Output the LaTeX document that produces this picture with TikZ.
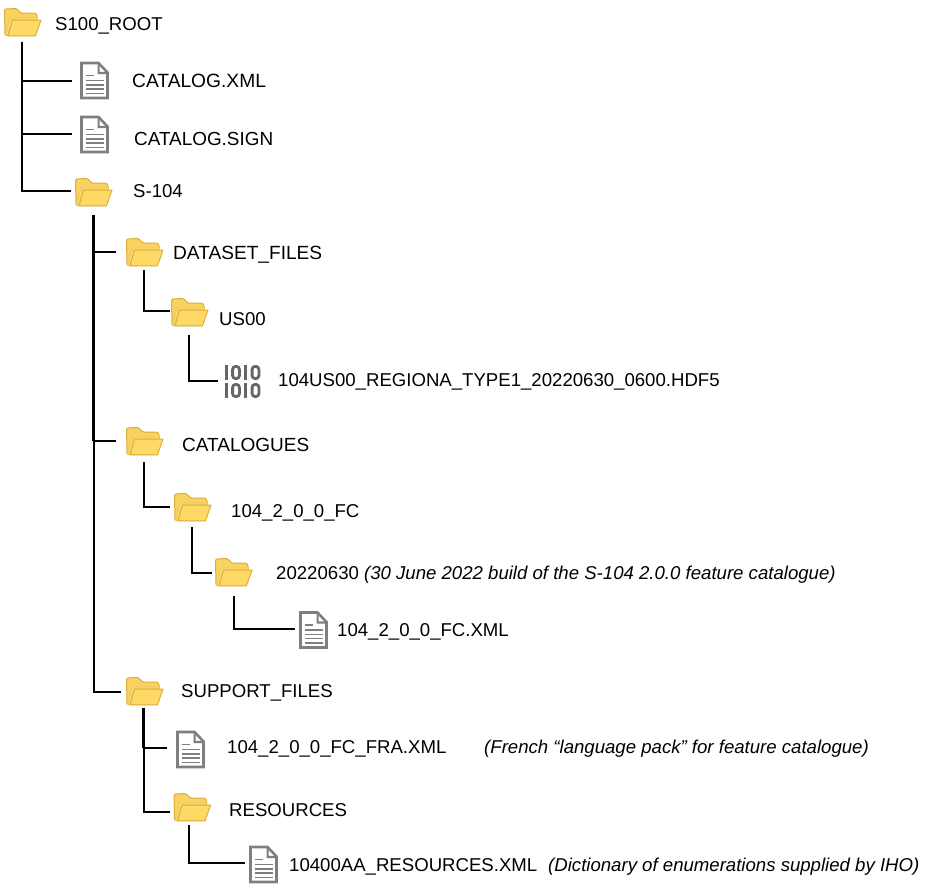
\documentclass[tikz,border=0pt]{standalone}
\usepackage{fontspec}
\setmainfont{Liberation Sans}
\definecolor{fedge}{HTML}{DBAE38}
\definecolor{ffill}{HTML}{FAD25F}
\definecolor{ffront}{HTML}{FFD966}
\definecolor{dgrey}{HTML}{7F7F7F}
\definecolor{bgrey}{HTML}{666666}
\tikzset{
  x=1pt,y=-1pt,
  iconbox/.style={inner sep=0pt,outer sep=0pt,minimum width=#1,minimum height=26pt},
  lbl/.style={anchor=base west,inner sep=0pt,font=\fontsize{#1}{20}\selectfont},
  lbl/.default=18.6,
  note/.style={anchor=base west,inner sep=0pt,font=\fontsize{18.6}{20}\selectfont\itshape},
  wire/.style={draw=black,line width=2pt},
  trunkwire/.style={draw=black,line width=3pt},
  folder/.pic={
    \draw[fedge,fill=ffill,line width=1pt,line join=round,rounded corners=1.3pt]
      (-17.5,13.5) -- (-18,-13) -- (-6,-13.5) -- (-2,-9) -- (13,-9) -- (14.5,-7) -- (14.5,0) -- (10,13.5) -- cycle;
    \draw[fedge!70!white,fill=ffront,line width=.9pt,line join=round] (-17,13) -- (-12.5,-4) -- (15,-4) -- (15,-2) -- (-10,-2) -- (-14.5,13.5) -- cycle;
    \draw[fedge,fill=ffront,line width=1pt,line join=round] (-14.5,13.8) -- (-10,-2) -- (18.5,-2) -- (13,13.8) -- cycle;
  },
  docicon/.pic={
    \draw[dgrey,fill=white,line width=2.6pt,line join=miter] (-13,-17.5) -- (4,-17.5) -- (13,-8) -- (13,17.5) -- (-13,17.5) -- cycle;
    \fill[dgrey] (3,-17.5) -- (3,-6.5) -- (13,-6.5) -- (13,-8.7) -- (5.2,-8.7) -- (5.2,-17.5) -- cycle;
    \foreach \yy in {0,4.3,8.6,12.9}{
      \draw[dgrey,line width=1.6pt] (-9,\yy) -- (9,\yy);}
    \draw[dgrey,line width=1.6pt] (-9,-5) -- (-1,-5);
  },
  binicon/.pic={
    \foreach \yy in {-9,9}{
      \foreach \xx in {-15,4}{
        \fill[bgrey] (\xx-1.8,\yy-7.5) rectangle (\xx+1.8,\yy+7.5);}
      \foreach \xx in {-5.5,14}{
        \draw[bgrey,line width=2.8pt,rounded corners=3pt] (\xx-3.4,\yy-6.1) rectangle (\xx+3.4,\yy+6.1);}
    }
  },
}
\begin{document}
\begin{tikzpicture}
\useasboundingbox (0,0) rectangle (938,889);
% icons
\node[iconbox=37pt] (root) at (22.5,22) {}; \pic at (root.center) {folder};
\node[iconbox=28pt] (catxml) at (94.5,80.5) {}; \pic at (catxml.center) {docicon};
\node[iconbox=28pt] (catsign) at (94.5,134.5) {}; \pic at (catsign.center) {docicon};
\node[iconbox=37pt] (s104) at (93.5,192) {}; \pic at (s104.center) {folder};
\node[iconbox=37pt] (dataset) at (144.5,252) {}; \pic at (dataset.center) {folder};
\node[iconbox=37pt] (us00) at (189.5,312) {}; \pic at (us00.center) {folder};
\node[iconbox=37pt] (hdf) at (241.5,381.5) {}; \pic at (hdf.center) {binicon};
\node[iconbox=37pt] (catalogues) at (144.5,441) {}; \pic at (catalogues.center) {folder};
\node[iconbox=37pt] (fc) at (192.5,507) {}; \pic at (fc.center) {folder};
\node[iconbox=37pt] (build) at (233.5,572) {}; \pic at (build.center) {folder};
\node[iconbox=28pt] (fcxml) at (313.5,630) {}; \pic at (fcxml.center) {docicon};
\node[iconbox=37pt] (support) at (144.5,691) {}; \pic at (support.center) {folder};
\node[iconbox=28pt] (fra) at (190.5,749.5) {}; \pic at (fra.center) {docicon};
\node[iconbox=37pt] (resources) at (192,807) {}; \pic at (resources.center) {folder};
\node[iconbox=28pt] (resxml) at (263.5,864.5) {}; \pic at (resxml.center) {docicon};
% labels
\node[lbl] (t1) at (55,30.5) {S100\_ROOT};
\node[lbl=19.2] (t2) at (132,87.5) {CATALOG.XML};
\node[lbl=18.9] (t3) at (134,145.5) {CATALOG.SIGN};
\node[lbl] (t4) at (133,197.5) {S-104};
\node[lbl=19.1] (t5) at (173,259.5) {DATASET\_FILES};
\node[lbl] (t6) at (219,325.5) {US00};
\node[lbl] (t7) at (278,386.5) {104US00\_REGIONA\_TYPE1\_20220630\_0600.HDF5};
\node[lbl=19] (t8) at (182,451.5) {CATALOGUES};
\node[lbl] (t9) at (231,517.5) {104\_2\_0\_0\_FC};
\node[lbl] (t10) at (276,579.5) {20220630 \textit{(30 June 2022 build of the S-104 2.0.0 feature catalogue)}};
\node[lbl] (t11) at (337,636.5) {104\_2\_0\_0\_FC.XML};
\node[lbl] (t12) at (181,697.5) {SUPPORT\_FILES};
\node[lbl] (t13) at (227,753.5) {104\_2\_0\_0\_FC\_FRA.XML};
\node[note] (n13) at (484,753.5) {(French “language pack” for feature catalogue)};
\node[lbl] (t14) at (229,816.5) {RESOURCES};
\node[lbl] (t15) at (289,871.5) {10400AA\_RESOURCES.XML};
\node[note] (n15) at (548,871.5) {(Dictionary of enumerations supplied by IHO)};
% connector anchors
\coordinate (a0) at (22,42);
\coordinate (a1) at (93.5,215);
\coordinate (a1b) at (94,441);
\coordinate (a2) at (144,270);
\coordinate (a3) at (189,335);
\coordinate (a4) at (144,462);
\coordinate (a5) at (192,527);
\coordinate (a6) at (234,596);
\coordinate (a7) at (143.5,708);
\coordinate (a7b) at (143.5,748);
\coordinate (a7c) at (144,748);
\coordinate (a8) at (189,825);
\coordinate (l1) at (72,81);
\coordinate (l2) at (72,134);
\coordinate (l3) at (71,191);
\coordinate (l4) at (116,252);
\coordinate (l5) at (170,311);
\coordinate (l6) at (218,381);
\coordinate (l7) at (116,441);
\coordinate (l8) at (170,507);
\coordinate (l9) at (212,573);
\coordinate (l10) at (295,629);
\coordinate (l11) at (121,692);
\coordinate (l12) at (167,748);
\coordinate (l13) at (170,812);
\coordinate (l14) at (245,863);
% connectors
\draw[wire] (a0) |- (l1);
\draw[wire] (a0) |- (l2);
\draw[wire] (a0) |- (l3);
\draw[trunkwire] (a1) -- (a1 |- a1b);
\draw[wire] (a1 |- l4) -- (l4);
\draw[wire] (a1 |- l7) -- (l7);
\draw[wire] (a1b) |- (l11);
\draw[wire] (a2) |- (l5);
\draw[wire] (a3) |- (l6);
\draw[wire] (a4) |- (l8);
\draw[wire] (a5) |- (l9);
\draw[wire] (a6) |- (l10);
\draw[wire] (a7c) |- (l13);
\draw[trunkwire] (a7) -- (a7b);
\draw[wire] (a7c) -- (l12);
\draw[wire] (a8) |- (l14);
\end{tikzpicture}
\end{document}
